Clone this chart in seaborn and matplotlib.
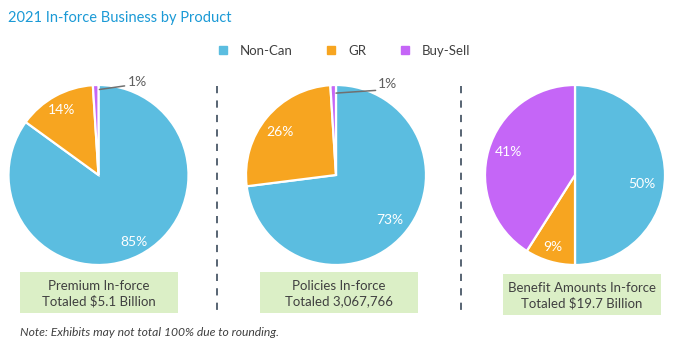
import matplotlib
matplotlib.use('Agg')
import matplotlib.pyplot as plt
import seaborn as sns
from matplotlib.patches import Rectangle
from matplotlib.lines import Line2D

# data
products = ['Non-Can', 'GR', 'Buy-Sell']
premium_share = [85, 14, 1]
policies_share = [73, 26, 1]
benefit_share = [50, 9, 41]
box_labels = ['Premium In-force\nTotaled $5.1 Billion',
              'Policies In-force\nTotaled 3,067,766',
              'Benefit Amounts In-force\nTotaled $19.7 Billion']
colors = ['#5bbde0', '#f7a520', '#c566f7']

sns.set_theme(style='white')
plt.rcParams['font.family'] = ['Lato', 'DejaVu Sans']
text_color = '#404040'

W, H = 674, 355
fig = plt.figure(figsize=(W / 100, H / 100), dpi=100)


def px_axes(cx, cy, r):
    # axes in pixel units (top-left origin) around a pie centre
    return fig.add_axes([(cx - r) / W, 1 - (cy + r) / H, 2 * r / W, 2 * r / H])


def draw_pie(cx, values, label_pos, small_label=None):
    ax = px_axes(cx, 175, 90)
    ax.pie(values, colors=colors, startangle=90, counterclock=False,
           wedgeprops=dict(edgecolor='white', linewidth=1.6))
    ax.set_xlim(-1.0, 1.0)
    ax.set_ylim(-1.0, 1.0)
    ax.set_aspect('auto')
    for v, pos in zip(values, label_pos):
        if pos is None:
            continue
        ax.text(pos[0], pos[1], '{}%'.format(v), color='white', fontsize=10,
                ha='center', va='center', zorder=10)
    if small_label is not None:
        (x0, y0), (x1, y1), (tx, ty), v = small_label
        ax.plot([x0, x1], [y0, y1], color='#707070', lw=1.1, clip_on=False)
        ax.text(tx, ty, '{}%'.format(v), color='#606060',
                fontsize=10, ha='left', va='center', zorder=10)
    return ax


draw_pie(98.5, premium_share, [(0.39, -0.74), (-0.41, 0.72), None],
         ((0.01, 0.95), (0.29, 0.99), (0.33, 1.03), premium_share[2]))
draw_pie(336, policies_share, [(0.60, -0.50), (-0.62, 0.48), None],
         ((0.0, 0.91), (0.44, 0.94), (0.46, 1.01), policies_share[2]))
draw_pie(575, benefit_share, [(0.74, -0.10), (-0.25, -0.80), (-0.74, 0.26)])

# title
fig.text(8 / W, 1 - 18 / H, '2021 In-force Business by Product',
         color='#1b9ad6', fontsize=10.5, ha='left', va='center')

# legend
handles = [Line2D([], [], marker='s', ls='', color=c, markersize=6) for c in colors]
fig.legend(handles, products, loc='center', ncol=3, frameon=False,
           bbox_to_anchor=(340 / W, 1 - 51 / H), fontsize=9.5,
           columnspacing=1.9, handletextpad=0.3, labelcolor=text_color)

# green boxes
boxes = [(20, 272, 158, 41), (260, 272, 158, 41), (503, 274, 158, 41)]
for (x, y, w, h), lab in zip(boxes, box_labels):
    fig.patches.append(Rectangle((x / W, 1 - (y + h) / H), w / W, h / H,
                                 transform=fig.transFigure,
                                 facecolor='#dbefc6', edgecolor='none'))
    fig.text((x + w / 2) / W, 1 - (y + h / 2 + 1) / H, lab, ha='center',
             va='center', fontsize=9.5, color=text_color, linespacing=1.25)

# dashed separators
for x in [217, 461]:
    fig.add_artist(Line2D([x / W, x / W], [1 - 86 / H, 1 - 313 / H],
                          transform=fig.transFigure, color='#4a5868',
                          lw=1.3, ls=(0, (4, 4))))

fig.text(20 / W, 1 - 332 / H, 'Note: Exhibits may not total 100% due to rounding.',
         style='italic', fontsize=8.7, color=text_color, ha='left', va='center')

fig.savefig('out.png', dpi=100)
